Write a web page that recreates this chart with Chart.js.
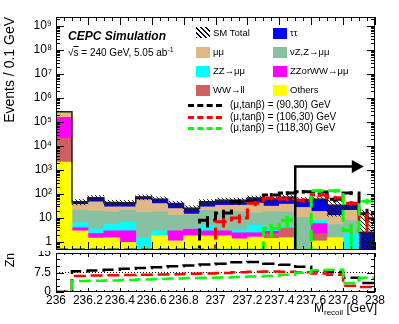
<!DOCTYPE html>
<html><head><meta charset="utf-8">
<script src="https://cdn.jsdelivr.net/npm/chart.js@4.4.1/dist/chart.umd.min.js"></script>
<style>
html,body{margin:0;padding:0;background:#fff;}
#wrap{position:relative;width:399px;height:324px;overflow:hidden;background:#fff;font-family:'Liberation Sans',Arial,Helvetica,sans-serif;color:#000}
canvas{position:absolute;left:0;}
.t{position:absolute;white-space:nowrap;line-height:1;transform:translateY(-50%);}
.sw{position:absolute;}
sup,sub{line-height:0;}
</style></head><body>
<div id="wrap">
<canvas id="main" width="399" height="251" style="top:0"></canvas>
<canvas id="ratio" width="399" height="73" style="top:251px"></canvas>
</div>
<script>
// ---------------- data ----------------
const binLow = [236.0,236.1,236.2,236.3,236.4,236.5,236.6,236.7,236.8,236.9,237.0,237.1,237.2,237.3,237.4,237.5,237.6,237.7,237.8,237.9];
const binWidth = 0.1;
// background components (events / 0.1 GeV), stacked bottom -> top
const others = [2150, 2.9, 1.45, 1.5, 0.95, 0, 1.8, 1.1, 1.8, 1.8, 1.8, 1.35, 1.6, 1.4, 1.5, 0, 1.1, 1.5, 0, 0];
const wwll   = [19000, 0, 0, 0, 0, 0, 0, 0, 0, 0, 0, 0, 0, 0.8, 2.3, 0, 1.1, 0, 0, 0];
const zzorww = [135000, 1.0, 0.8, 1.4, 1.96, 0, 0, 1.8, 1.6, 1.1, 1.1, 1.05, 0.8, 0.6, 0, 0, 3.6, 0, 0, 0];
const zzmumu = [0, 2.5, 1.25, 2.4, 3.7, 1.44, 1.1, 0, 0, 1.9, 0, 0.8, 2.7, 1.2, 1.0, 0, 2.0, 0, 2.2, 0];
const nuz    = [0, 14.6, 16, 12.4, 14.4, 15.5, 14.8, 9.9, 9.9, 16, 14.8, 15.8, 11, 14, 12.9, 10.5, 0, 3.8, 5.6, 0];
const mumu   = [115000, 16, 27.5, 11.3, 8, 41, 22, 11.8, 1.2, 8, 16.3, 15, 26, 13, 20, 17, 11, 7.5, 13, 0];
const tautau = [0, 10, 23, 15, 14, 17, 21, 15.4, 11, 18, 21, 21, 25, 30, 36, 30, 42, 21, 13, 2.5];
const smErr  = [6000, 12, 17, 11, 11, 18, 15, 10, 7, 12, 13, 13, 16, 15, 18, 14, 15, 22, 10, 18];
// signals
const sig90     = [0,0,0,0,0,0,0,0,0, 8, 16, 47, 50, 90, 110, 125, 120, 60, 110, 15];
const sig90Err  = [0,0,0,0,0,0,0,0,0, 4, 6, 12, 13, 18, 20, 22, 22, 15, 20, 9];
const sig106    = [0,0,0,0,0,0,0,0,0,0, 7, 10, 41, 67, 61, 55, 90, 70, 41, 9.5];
const sig106Err = [0,0,0,0,0,0,0,0,0,0, 3, 4, 10, 13, 12, 12, 16, 14, 10, 7];
const sig118    = [0,0,0,0,0,0,0,0,0,0,0,0,0, 3.6, 8, 0, 135, 135, 3, 50];
const sig118Err = [0,0,0,0,0,0,0,0,0,0,0,0,0, 2, 4, 0, 24, 24, 2.5, 13];
// significance Zn for a cut M_recoil > bin low edge
const znBlack = [0, 8.0, 8.3, 8.6, 8.9, 9.2, 9.5, 9.9, 10.2, 10.6, 10.9, 11.4, 11.5, 10.9, 10.5, 9.7, 8.2, 7.6, 5.5, 3.5];
const znRed   = [0, 6.2, 6.3, 6.4, 6.5, 6.6, 6.7, 6.8, 7.0, 7.1, 7.3, 7.6, 7.8, 7.9, 7.8, 7.6, 7.1, 6.6, 2.4, 1.9];
const znGreen = [0, 4.2, 4.3, 4.4, 4.6, 4.8, 5.0, 5.2, 5.4, 5.5, 5.6, 5.8, 6.0, 6.2, 6.6, 7.4, 8.4, 8.6, 3.5, 5.5];
const yDecades = [1, 10, 1e2, 1e3, 1e4, 1e5, 1e6, 1e7, 1e8, 1e9];
const xLabelTicks = [236, 236.2, 236.4, 236.6, 236.8, 237, 237.2, 237.4, 237.6, 237.8, 238];
const znTicks = [0, 7.5, 15];
// cut arrow annotation (axis units)
const cutValue = 237.5, arrowLevel = 1400, arrowEnd = 237.93;

// ---------------- helpers ----------------
const Y_MIN = 0.46, Y_MAX = 2.4e9;
const edges = binLow.concat([+(binLow[binLow.length-1] + binWidth).toFixed(2)]);
const centers = binLow.map(b => +(b + binWidth/2).toFixed(3));
const supMap = {'0':'⁰','1':'¹','2':'²','3':'³','4':'⁴','5':'⁵','6':'⁶','7':'⁷','8':'⁸','9':'⁹','-':'⁻'};
Chart.defaults.font.family = "'Liberation Sans', Arial, Helvetica, sans-serif";
Chart.defaults.color = '#000';

function hatchPattern(){
  const s = 4, c = document.createElement('canvas'); c.width = c.height = s;
  const g = c.getContext('2d'); g.strokeStyle = '#000'; g.lineWidth = 0.9;
  g.beginPath(); g.moveTo(-1,-1); g.lineTo(s+1,s+1); g.moveTo(-1,s-1); g.lineTo(1,s+1); g.moveTo(s-1,-1); g.lineTo(s+1,1); g.stroke();
  return g.createPattern(c, 'repeat');
}
const HATCH = hatchPattern();

const bgSeries = [
  {key:'others', label:'Others',      values: others, color:'#ffff00'},
  {key:'wwll',   label:'WW→ll',       values: wwll,   color:'#cd6060'},
  {key:'zzorww', label:'ZZorWW→μμ',   values: zzorww, color:'#ff00ff'},
  {key:'zzmumu', label:'ZZ→μμ',       values: zzmumu, color:'#00ffff'},
  {key:'nuz',    label:'νZ,Z→μμ',     values: nuz,    color:'#88c1a2'},
  {key:'mumu',   label:'μμ',          values: mumu,   color:'#deb887'},
  {key:'tautau', label:'ττ',          values: tautau, color:'#0000ff'}
];
const sigSeries = [
  {label:'(μ,tanβ) = (90,30) GeV',  values: sig90,  err: sig90Err,  zn: znBlack, color:'#000000'},
  {label:'(μ,tanβ) = (106,30) GeV', values: sig106, err: sig106Err, zn: znRed,   color:'#ff0000'},
  {label:'(μ,tanβ) = (118,30) GeV', values: sig118, err: sig118Err, zn: znGreen, color:'#00ff00'}
];

// ---------------- main datasets ----------------
const mainDatasets = [];
const cum = binLow.map(() => 0);
bgSeries.forEach(s => {
  const pts = [];
  s.values.forEach((v, i) => {
    if (v > 0) { const lo = cum[i]; cum[i] += v; pts.push({x: centers[i], y: [Math.max(lo, Y_MIN), cum[i]]}); }
  });
  mainDatasets.push({type:'bar', label:s.label, data:pts, backgroundColor:s.color, borderWidth:0,
    barPercentage:1, categoryPercentage:1, grouped:false, order:10});
});
const totals = cum.slice();
mainDatasets.push({type:'bar', label:'SM Total unc.', grouped:false, order:5, borderWidth:0,
  barPercentage:1, categoryPercentage:1, backgroundColor: HATCH,
  data: totals.map((t, i) => ({x: centers[i], y: [Math.max(t - smErr[i], Y_MIN), t + smErr[i]]}))});
mainDatasets.push({type:'line', label:'SM Total', order:4, stepped:true, borderColor:'#222', borderWidth:1.5,
  pointRadius:0, fill:false,
  data: edges.map((e, i) => ({x: e, y: totals[Math.min(i, totals.length-1)]}))});
sigSeries.forEach((s, k) => {
  mainDatasets.push({type:'line', label:s.label, order:3-k, stepped:true, borderColor:s.color, borderWidth:3,
    borderDash:[12,5], pointRadius:0, fill:false,
    data: edges.map((e, i) => ({x: e, y: Math.max(s.values[Math.min(i, s.values.length-1)], Y_MIN)}))});
});

// ---------------- plugins ----------------
function seg(ctx, x1, y1, x2, y2){ ctx.beginPath(); ctx.moveTo(x1, y1); ctx.lineTo(x2, y2); ctx.stroke(); }
function makeFramePlugin(cfg){
  return {
    id: 'frame_' + cfg.name,
    afterDraw(chart){
      const {ctx, chartArea: a, scales: {x, y}} = chart;
      ctx.save(); ctx.strokeStyle = '#000'; ctx.lineWidth = 1; ctx.setLineDash([]);
      ctx.strokeRect(Math.round(a.left)+0.5, Math.round(a.top)+0.5, Math.round(a.right-a.left)-1, Math.round(a.bottom-a.top)-1);
      const n = Math.round((x.max - x.min) / cfg.xMinor), per = Math.round(cfg.xMajor / cfg.xMinor);
      for (let i = 0; i <= n; i++) {
        const px = Math.round(x.getPixelForValue(x.min + i*cfg.xMinor)) + 0.5;
        const L = (i % per === 0) ? cfg.xLen[0] : cfg.xLen[1];
        seg(ctx, px, a.bottom, px, a.bottom - L);
        seg(ctx, px, a.top, px, a.top + L);
      }
      cfg.yTicks().forEach(([v, major]) => {
        if (v < y.min || v > y.max) return;
        const py = Math.round(y.getPixelForValue(v)) + 0.5;
        const L = major ? cfg.yLen[0] : cfg.yLen[1];
        seg(ctx, a.left, py, a.left + L, py);
        seg(ctx, a.right, py, a.right - L, py);
      });
      ctx.restore();
    }
  };
}
const errorBarPlugin = {
  id: 'errbars',
  afterDatasetsDraw(chart){
    const {ctx, scales: {x, y}, chartArea: a} = chart;
    ctx.save(); ctx.beginPath(); ctx.rect(a.left, a.top, a.right-a.left, a.bottom-a.top); ctx.clip();
    ctx.lineWidth = 3; ctx.setLineDash([]);
    sigSeries.forEach(s => {
      ctx.strokeStyle = s.color;
      s.values.forEach((v, i) => {
        if (v <= 0 || !s.err[i]) return;
        const px = x.getPixelForValue(centers[i]);
        seg(ctx, px, y.getPixelForValue(Math.max(v - s.err[i], Y_MIN)), px, y.getPixelForValue(v + s.err[i]));
      });
    });
    // cut arrow
    ctx.strokeStyle = '#000'; ctx.fillStyle = '#000'; ctx.lineWidth = 2.5;
    const ax = x.getPixelForValue(cutValue), ay = y.getPixelForValue(arrowLevel), ex = x.getPixelForValue(arrowEnd);
    ctx.beginPath(); ctx.moveTo(ax, a.bottom); ctx.lineTo(ax, ay); ctx.lineTo(ex - 10, ay); ctx.stroke();
    ctx.beginPath(); ctx.moveTo(ex, ay); ctx.lineTo(ex - 12, ay - 6.5); ctx.lineTo(ex - 12, ay + 6.5); ctx.closePath(); ctx.fill();
    ctx.restore();
  }
};
function logTicks(){
  const out = [];
  for (let k = -1; k <= 9; k++) for (let m = 1; m <= 9; m++) out.push([m * Math.pow(10, k), m === 1]);
  return out;
}
function noPad(sc){ sc.paddingTop = 0; sc.paddingBottom = 0; sc.paddingLeft = 0; sc.paddingRight = 0; }

// ---------------- main chart ----------------
new Chart(document.getElementById('main'), {
  data: {datasets: mainDatasets},
  options: {
    responsive:false, animation:false, devicePixelRatio:1, events:[],
    layout: {padding: {top:17, right:24, bottom:1, left:0}},
    plugins: {legend:{display:false}, tooltip:{enabled:false}},
    scales: {
      x: {type:'linear', min:236, max:238, display:false, stacked:true, offset:false},
      y: {type:'logarithmic', min:Y_MIN, max:Y_MAX, stacked:false,
        afterBuildTicks: sc => { sc.ticks = yDecades.map(v => ({value:v})); },
        afterFit: sc => { sc.width = 56; noPad(sc); },
        grid: {display:false, drawTicks:false}, border:{display:false},
        ticks: {padding:4, font:{size:12}, autoSkip:false,
          callback: v => { const e = Math.round(Math.log10(v)); return e === 0 ? '1' : e === 1 ? '10' : '10' + String(e).split('').map(c => supMap[c]).join(''); }},
        title: {display:true, text:'Events / 0.1 GeV', align:'end', font:{size:14}, padding:{top:2, bottom:0}}
      }
    }
  },
  plugins: [errorBarPlugin, makeFramePlugin({name:'main', xMinor:0.05, xMajor:0.2, xLen:[8,4], yLen:[8,4], yTicks: logTicks})]
});

// ---------------- ratio chart ----------------
new Chart(document.getElementById('ratio'), {
  type: 'line',
  data: {datasets: sigSeries.map((s, k) => ({
    label: s.label, order: 3-k, stepped:true, borderColor:s.color, borderWidth:2.5, borderDash:[12,5],
    pointRadius:0, fill:false,
    data: edges.map((e, i) => ({x: e, y: s.zn[Math.min(i, s.zn.length-1)]}))
  }))},
  options: {
    responsive:false, animation:false, devicePixelRatio:1, events:[],
    layout: {padding: {top:2, right:24, bottom:0, left:0}},
    plugins: {legend:{display:false}, tooltip:{enabled:false}},
    scales: {
      x: {type:'linear', min:236, max:238,
        afterBuildTicks: sc => { sc.ticks = xLabelTicks.map(v => ({value:v})); },
        afterFit: sc => { sc.height = 32; noPad(sc); },
        grid: {display:false, drawTicks:false}, border:{display:false},
        ticks: {padding:1, font:{size:12}, autoSkip:false, maxRotation:0,
          callback: v => (Math.abs(v - Math.round(v)) < 1e-6) ? String(Math.round(v)) : v.toFixed(1)}
      },
      y: {type:'linear', min:0, max:15,
        afterBuildTicks: sc => { sc.ticks = znTicks.map(v => ({value:v})); },
        afterFit: sc => { sc.width = 56; noPad(sc); },
        grid: {display:true, drawTicks:false, lineWidth:1,
          color: c => (c.tick && c.tick.value === 7.5) ? '#000' : 'rgba(0,0,0,0)'},
        border: {display:false, dash:[1,2]},
        ticks: {padding:5, font:{size:12}, autoSkip:false,
          callback: v => String(v)},
        title: {display:true, text:'Zn', align:'end', font:{size:12}, padding:{top:3, bottom:0}}
      }
    }
  },
  plugins: [makeFramePlugin({name:'ratio', xMinor:0.05, xMajor:0.2, xLen:[4,2], yLen:[8,4],
    yTicks: () => [[0,true],[7.5,true],[15,true],[2.5,false],[5,false],[10,false],[12.5,false]]})]
});

// ---------------- texts & legend (HTML) ----------------
const wrap = document.getElementById('wrap');
function addText(html, x, y, style){
  const d = document.createElement('div'); d.className = 't'; d.innerHTML = html;
  d.style.left = x + 'px'; d.style.top = y + 'px';
  Object.assign(d.style, style || {}); wrap.appendChild(d); return d;
}
function addBox(x, y, w, h, style){
  const d = document.createElement('div'); d.className = 'sw';
  Object.assign(d.style, {left:x+'px', top:y+'px', width:w+'px', height:h+'px'}, style || {});
  wrap.appendChild(d); return d;
}
addText('CEPC Simulation', 68, 36, {fontSize:'12px', fontWeight:'bold', fontStyle:'italic'});
addText('√<span style="text-decoration:overline">s</span> = 240 GeV, 5.05 ab<sup style="font-size:7px">-1</sup>', 68, 53, {fontSize:'10px'});
// x-axis title
const xt = addText('M<sub style="font-size:8px">recoil</sub> [GeV]', 0, 308, {fontSize:'12px'});
xt.style.left = (377 - xt.offsetWidth) + 'px';

const byKey = {}; bgSeries.forEach(s => byKey[s.key] = s);
const legRows = [[null, 'tautau'], ['mumu', 'nuz'], ['zzmumu', 'zzorww'], ['wwll', 'others']];
const legRowY = [33, 52, 71, 90], legColX = [196, 273];
legRows.forEach((row, r) => row.forEach((key, c) => {
  const x = legColX[c], y = legRowY[r];
  if (key === null) {
    addBox(x, y - 6, 14, 11, {background:'repeating-linear-gradient(45deg, #000 0 1px, transparent 1px 3.5px)'});
    addText('SM Total', x + 17, y, {fontSize:'9.5px'});
  } else {
    addBox(x, y - 5.5, 14, 11, {background: byKey[key].color});
    addText(byKey[key].label, x + 17, y, {fontSize:'9.5px'});
  }
}));
const sigRowY = [105, 117, 128];
sigSeries.forEach((s, k) => {
  addBox(188, sigRowY[k] - 1.5, 34, 0, {borderTop:'3px dashed ' + s.color});
  addText(s.label, 230, sigRowY[k], {fontSize:'10px'});
});
</script></body></html>
